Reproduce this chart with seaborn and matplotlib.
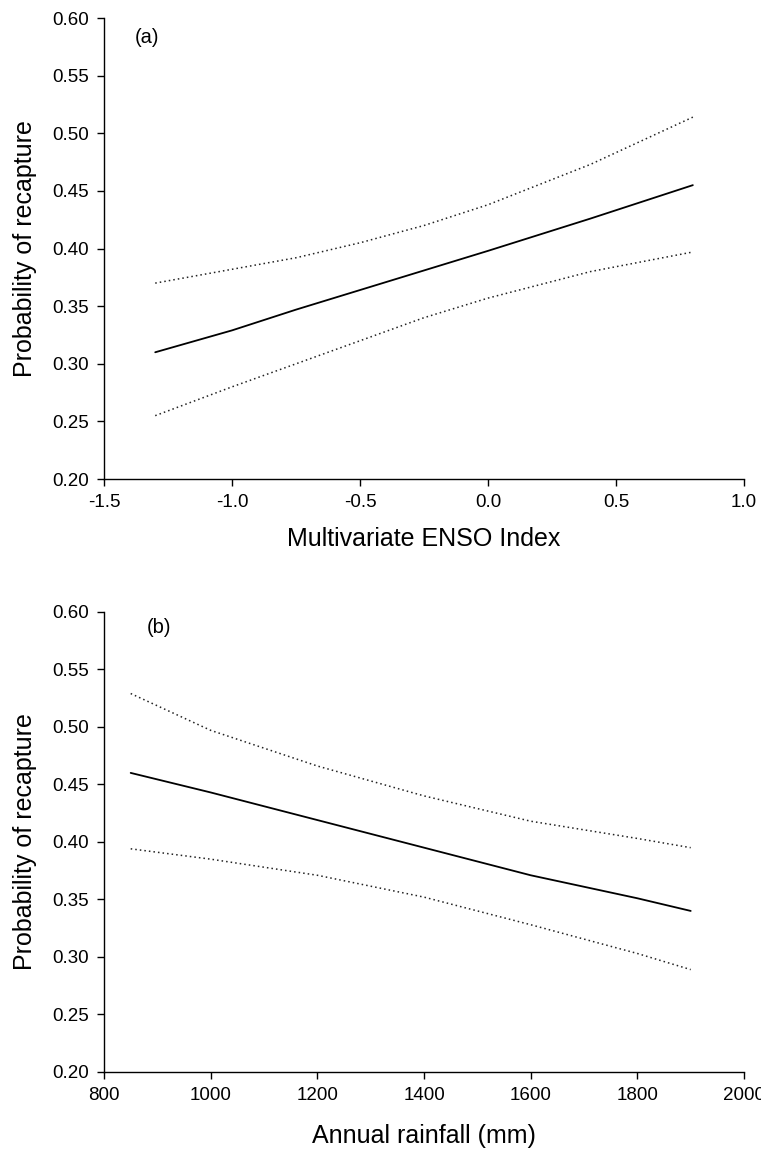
import matplotlib
matplotlib.use("Agg")
import matplotlib.pyplot as plt
import seaborn as sns
import pandas as pd

# Panel (a): Multivariate ENSO Index
enso_x = [-1.3, -1.0, -0.75, -0.5, -0.25, 0.0, 0.4, 0.8]
enso_fit = [0.310, 0.329, 0.347, 0.364, 0.381, 0.398, 0.426, 0.455]
enso_upper = [0.370, 0.382, 0.392, 0.405, 0.420, 0.438, 0.473, 0.514]
enso_lower = [0.255, 0.280, 0.300, 0.320, 0.340, 0.357, 0.380, 0.397]

# Panel (b): Annual rainfall
rain_x = [850, 1000, 1200, 1400, 1600, 1800, 1900]
rain_fit = [0.460, 0.443, 0.419, 0.395, 0.371, 0.351, 0.340]
rain_upper = [0.529, 0.497, 0.466, 0.440, 0.418, 0.403, 0.395]
rain_lower = [0.394, 0.385, 0.371, 0.352, 0.328, 0.303, 0.289]

y_ticks = [0.20, 0.25, 0.30, 0.35, 0.40, 0.45, 0.50, 0.55, 0.60]
enso_ticks = [-1.5, -1.0, -0.5, 0.0, 0.5, 1.0]
rain_ticks = [800, 1000, 1200, 1400, 1600, 1800, 2000]

sns.set_style("ticks")
plt.rcParams['font.family'] = ['Liberation Sans', 'DejaVu Sans']
plt.rcParams['text.color'] = 'black'
plt.rcParams['axes.labelcolor'] = 'black'

fig = plt.figure(figsize=(7.61, 11.56), dpi=100)
ax1 = fig.add_axes([0.1367, 0.5856, 0.841, 0.3988])
ax2 = fig.add_axes([0.1367, 0.0727, 0.841, 0.398])

def draw(ax, x, fit, up, lo, xticks, xlabel, tag, tagpos, xfmt, xpad):
    df = pd.DataFrame({"x": x, "fit": fit, "upper": up, "lower": lo})
    sns.lineplot(data=df, x="x", y="fit", ax=ax, color="black", lw=1.3)
    sns.lineplot(data=df, x="x", y="upper", ax=ax, color="#222222", lw=1.1,
                 linestyle=(0, (1, 2)))
    sns.lineplot(data=df, x="x", y="lower", ax=ax, color="#222222", lw=1.1,
                 linestyle=(0, (1, 2)))
    ax.set_xlim(xticks[0], xticks[-1])
    ax.set_ylim(0.2, 0.6)
    ax.set_xticks(xticks)
    ax.set_xticklabels([xfmt(t) for t in xticks])
    ax.set_yticks(y_ticks)
    ax.set_yticklabels([f"{t:.2f}" for t in y_ticks])
    ax.tick_params(axis="both", labelsize=13.5, length=5, width=1, direction="out",
                   colors="black", labelcolor="black", pad=6)
    for s in ["left", "bottom"]:
        ax.spines[s].set_linewidth(1.0)
        ax.spines[s].set_color("black")
    sns.despine(ax=ax)
    ax.set_xlabel(xlabel, fontsize=18, labelpad=xpad, color="black")
    ax.set_ylabel("Probability of recapture", fontsize=18, labelpad=11, color="black")
    ax.text(tagpos[0], tagpos[1], tag, transform=ax.transAxes, fontsize=14.5,
            ha="left", va="center", color="black")

draw(ax1, enso_x, enso_fit, enso_upper, enso_lower, enso_ticks,
     "Multivariate ENSO Index", "(a)", (0.048, 0.957), lambda t: f"{t:.1f}", 11)
draw(ax2, rain_x, rain_fit, rain_upper, rain_lower, rain_ticks,
     "Annual rainfall (mm)", "(b)", (0.067, 0.965), lambda t: f"{t:d}", 14)

fig.savefig("out.png", dpi=100)
